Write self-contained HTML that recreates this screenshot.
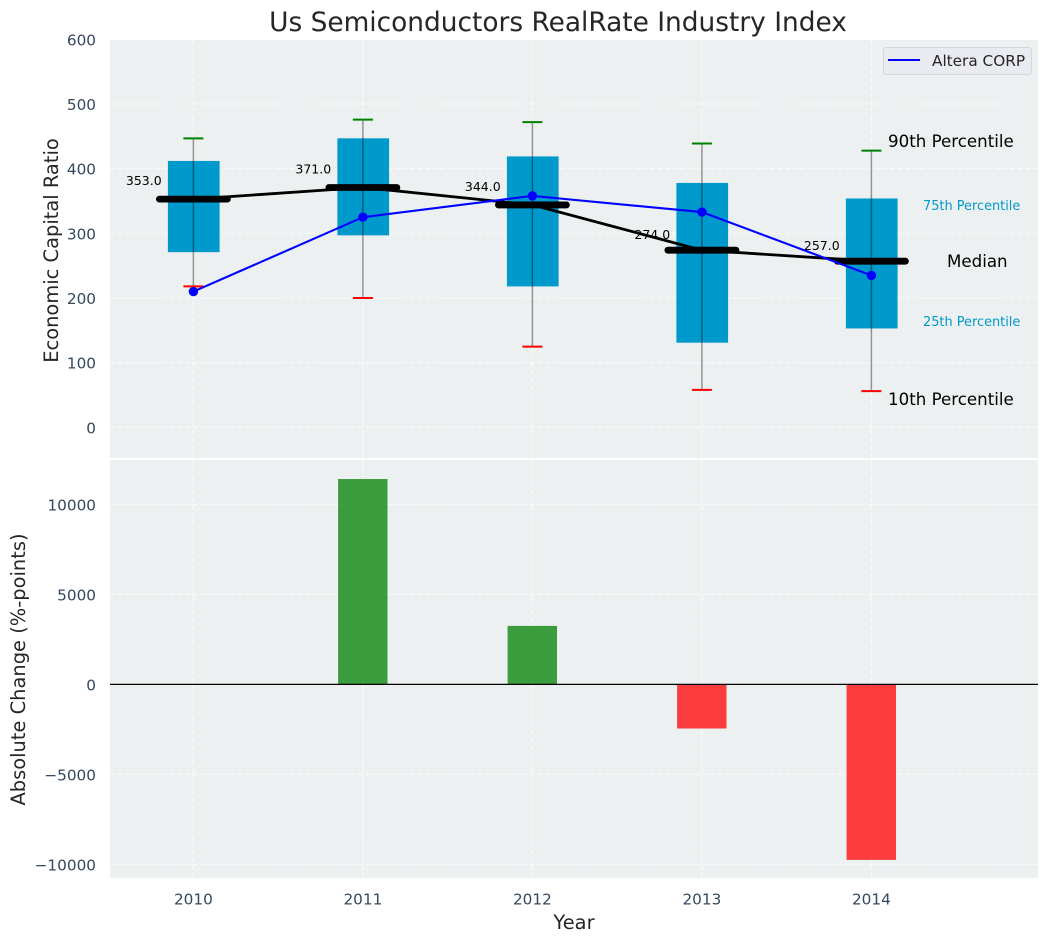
<!DOCTYPE html>
<html lang="en">
<head>
<meta charset="utf-8">
<title>Us Semiconductors RealRate Industry Index</title>
<style>
html,body{margin:0;padding:0;background:#fff;width:1048px;height:942px;overflow:hidden}
svg{display:block}
text{font-family:"DejaVu Sans","Liberation Sans",sans-serif}
</style>
</head>
<body>
<svg id="chart" xmlns="http://www.w3.org/2000/svg" width="1048" height="942" viewBox="0 0 1048 942">
  <rect x="110" y="40" width="928" height="418" fill="#ecf0f1"/>
  <rect x="110" y="460" width="928" height="418" fill="#ecf0f1"/>
  <g id="grid"></g>
  <g id="bars"></g>
  <g id="boxes"></g>
  <g id="series"></g>
  <g id="ticks"></g>
  <text x="558" y="31" text-anchor="middle" font-size="26.4" fill="#262626">Us Semiconductors RealRate Industry Index</text>
  <text transform="translate(58,250.5) rotate(-90)" text-anchor="middle" font-size="19.44" fill="#262626">Economic Capital Ratio</text>
  <text transform="translate(25,669.5) rotate(-90)" text-anchor="middle" font-size="19.44" fill="#262626">Absolute Change (%-points)</text>
  <text x="574" y="929" text-anchor="middle" font-size="19.44" fill="#262626">Year</text>
  <text x="888" y="147" font-size="16.67" fill="#000">90th Percentile</text>
  <text x="923" y="210" font-size="12.9" fill="#0099cc">75th Percentile</text>
  <text x="947" y="267" font-size="16.67" fill="#000">Median</text>
  <text x="923" y="326" font-size="12.9" fill="#0099cc">25th Percentile</text>
  <text x="888" y="405" font-size="16.67" fill="#000">10th Percentile</text>
  <g>
    <rect x="883.5" y="47.5" width="148" height="27" rx="3" fill="#e9ebf0" stroke="#d4d6d8"/>
    <line x1="888" y1="60" x2="920" y2="60" stroke="#0000ff" stroke-width="2.1"/>
    <text x="932" y="66" font-size="15.28" fill="#262626">Altera CORP</text>
  </g>
</svg>
<script>
const years = [2010, 2011, 2012, 2013, 2014];
const p90 = [447, 476, 472, 439, 428];
const p75 = [412, 447, 419, 378, 354];
const median = [353, 371, 344, 274, 257];
const p25 = [271, 297, 218, 131, 153];
const p10 = [218, 200, 125, 58, 56];
const company = [210, 325, 358, 333, 235];
const change = [0, 11410, 3250, -2450, -9750];
const topTicks = [0, 100, 200, 300, 400, 500, 600];
const bottomTicks = [-10000, -5000, 0, 5000, 10000];

const NS = 'http://www.w3.org/2000/svg';
const xPos = v => 193.4 + (v - 2010) * 169.5;
const yTop = v => 427.4 - v * 0.6467;
const yBottom = v => 684.4 - v * 0.018;

function make(parent, tag, props, text) {
  const el = document.createElementNS(NS, tag);
  for (const k in props) el.setAttribute(k, props[k]);
  if (text !== undefined) el.textContent = text;
  parent.appendChild(el);
  return el;
}
const gGrid = document.getElementById('grid');
const gBars = document.getElementById('bars');
const gBoxes = document.getElementById('boxes');
const gSeries = document.getElementById('series');
const gTicks = document.getElementById('ticks');
const gridStyle = {stroke:'#fff', 'stroke-width':1, 'stroke-dasharray':'5 2.5', opacity:0.85};

years.forEach(year => {
  const x = xPos(year);
  const a = make(gGrid, 'line', {x1:x, x2:x, y1:40, y2:458, ...gridStyle});
  
  
  const b = make(gGrid, 'line', {x1:x, x2:x, y1:460, y2:878, ...gridStyle});
  
  
  const t = make(gTicks, 'text', {x:x, y:904.5, 'text-anchor':'middle', 'font-size':15.28, fill:'#34495e'}, String(year));
  
  
});
topTicks.forEach(v => {
  const y = yTop(v);
  const l = make(gGrid, 'line', {x1:110, x2:1038, y1:y, y2:y, ...gridStyle});
  
  
  const t = make(gTicks, 'text', {x:96, y:y + 6, 'text-anchor':'end', 'font-size':15.28, fill:'#34495e'}, String(v));
  
  
});
bottomTicks.forEach(v => {
  const y = yBottom(v);
  const l = make(gGrid, 'line', {x1:110, x2:1038, y1:y, y2:y, ...gridStyle});
  
  
  const label = v < 0 ? '\u2212' + Math.abs(v) : String(v);
  const t = make(gTicks, 'text', {x:96, y:y + 6, 'text-anchor':'end', 'font-size':15.28, fill:'#34495e'}, label);
  
  
});

years.forEach((year, i) => {
  const x = xPos(year);
  const v = change[i];
  const y0 = yBottom(0);
  const y1 = yBottom(v);
  const bar = make(gBars, 'rect', {x:x - 24.8, y:Math.min(y0, y1), width:49.4, height:Math.abs(y1 - y0),
    fill:v >= 0 ? '#008000' : '#ff0000', 'fill-opacity':0.75});
  
  

  const box = make(gBoxes, 'rect', {x:x - 25.5, y:yTop(p75[i]), width:51.7, height:yTop(p25[i]) - yTop(p75[i]), fill:'#0099cc'});
  
  
  const whisker = make(gBoxes, 'line', {x1:x, x2:x, y1:yTop(p90[i]), y2:yTop(p10[i]), stroke:'#000', 'stroke-opacity':0.4, 'stroke-width':1.5});
  
  
  const capHigh = make(gBoxes, 'line', {x1:x - 10, x2:x + 10, y1:yTop(p90[i]), y2:yTop(p90[i]), stroke:'#008000', 'stroke-width':2});
  
  
  const capLow = make(gBoxes, 'line', {x1:x - 10, x2:x + 10, y1:yTop(p10[i]), y2:yTop(p10[i]), stroke:'#ff0000', 'stroke-width':2});
  
  
});

const medianLine = make(gSeries, 'polyline', {points:years.map((y, i) => xPos(y) + ',' + yTop(median[i])).join(' '), fill:'none', stroke:'#000', 'stroke-width':2.8});


years.forEach((year, i) => {
  const x = xPos(year);
  const y = yTop(median[i]);
  const m = make(gSeries, 'line', {x1:x - 34, x2:x + 34, y1:y, y2:y, stroke:'#000', 'stroke-width':6.8, 'stroke-linecap':'round'});
  
  
  const t = make(gSeries, 'text', {x:x - 67.5, y:y - (median[i] > 300 ? 14 : 11), 'font-size':12.5, fill:'#000'}, median[i].toFixed(1));
  
  
});
const companyLine = make(gSeries, 'polyline', {points:years.map((y, i) => xPos(y) + ',' + yTop(company[i])).join(' '), fill:'none', stroke:'#0000ff', 'stroke-width':2.1});


years.forEach((year, i) => {
  const c = make(gSeries, 'circle', {cx:xPos(year), cy:yTop(company[i]), r:4.7, fill:'#0000ff'});
  
  
});
const zero = make(gSeries, 'line', {x1:110, x2:1038, y1:yBottom(0), y2:yBottom(0), stroke:'#000', 'stroke-width':1.3});


</script>
</body>
</html>
